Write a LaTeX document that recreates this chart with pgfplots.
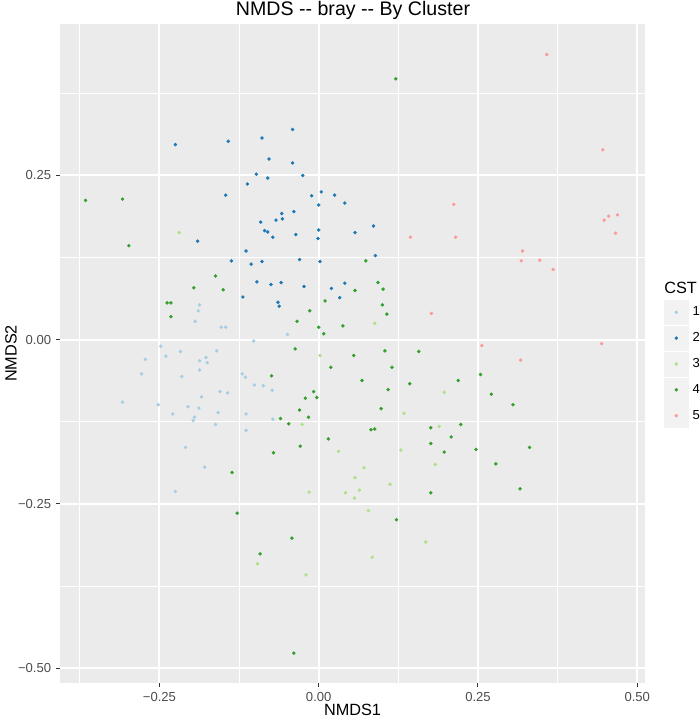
\documentclass[border=0pt]{standalone}
\usepackage{fontspec}
\setmainfont{Liberation Sans}
\usepackage{pgfplots}
\pgfplotsset{compat=1.18}

\definecolor{c1}{HTML}{A6CEE3}
\definecolor{c2}{HTML}{1F78B4}
\definecolor{c3}{HTML}{B2DF8A}
\definecolor{c4}{HTML}{33A02C}
\definecolor{c5}{HTML}{FB9A99}
\definecolor{ggbg}{HTML}{EBEBEB}
\definecolor{ggkey}{HTML}{F2F2F2}
\definecolor{gg30}{HTML}{4D4D4D}
\definecolor{gg20}{HTML}{333333}

\pgfplotsset{
  keyimg/.style={legend image code/.code={
    \fill[ggkey] (0pt,-9pt) rectangle (18pt,9pt);
    \fill[#1] (9pt,0pt) circle (1.1pt);}},
  pts/.style={only marks, mark=*, mark size=1.1pt, color=#1,
    mark options={draw=none, fill=#1}, forget plot},
}

\begin{document}
\begin{tikzpicture}
\path[use as bounding box] (0,0) rectangle (525pt,539.25pt);

\begin{axis}[
    at={(45pt,27pt)}, anchor=south west,
    scale only axis,
    width=438.75pt, height=494.25pt,
    xmin=-0.4061, xmax=0.5122,
    ymin=-0.5225, ymax=0.4805,
    clip mode=individual,
    axis background/.style={fill=ggbg},
    axis line style={draw=none},
    xtick={-0.25,0,0.25,0.5},
    xticklabels={−0.25,0.00,0.25,0.50},
    ytick={-0.5,-0.25,0,0.25},
    yticklabels={−0.50,−0.25,0.00,0.25},
    minor xtick={-0.375,-0.125,0.125,0.375},
    minor ytick={-0.375,-0.125,0.125,0.375},
    xtick pos=bottom, ytick pos=left,
    tick align=outside,
    major tick length=3pt, minor tick length=0pt,
    major tick style={draw=gg20, line width=0.75pt},
    xmajorgrids, ymajorgrids, xminorgrids, yminorgrids,
    major grid style={white, line width=1.5pt},
    minor grid style={white, line width=0.75pt},
    ticklabel style={font=\fontsize{9.8}{11}\selectfont, text=gg30, inner sep=0pt},
    xticklabel style={anchor=north},
    yticklabel style={anchor=east},
    xticklabel shift=3.5pt,
    yticklabel shift=3.5pt,
    every axis title shift=0pt,
    title={NMDS -{}- bray -{}- By Cluster},
    title style={at={(axis description cs:0.5009,1.0129)}, anchor=base,
      inner sep=0pt, font=\fontsize{14.7}{16}\selectfont},
    xlabel={NMDS1},
    xlabel style={at={(axis description cs:0.5,-0.0494)}, anchor=base,
      inner sep=0pt, font=\fontsize{12.2}{14}\selectfont},
    ylabel={NMDS2},
    ylabel style={at={(axis description cs:-0.0741,0.5)}, anchor=base,
      inner sep=0pt, font=\fontsize{12.2}{14}\selectfont},
    legend style={at={(axis description cs:1.0325,0.5812)}, anchor=north west,
      draw=none, fill=none, inner sep=0pt, outer sep=0pt,
      row sep=1pt, column sep=1pt,
      font=\fontsize{9.8}{11}\selectfont,
      cells={anchor=west}, nodes={inner sep=2pt}},
]

% CST 1
\addplot[pts=c1] coordinates {
(-0.187,0.053) (-0.189,0.044) (-0.194,0.028) (-0.153,0.019) (-0.146,0.019)
(-0.248,-0.010) (-0.217,-0.018) (-0.160,-0.017) (-0.272,-0.030) (-0.240,-0.025)
(-0.177,-0.027) (-0.187,-0.032) (-0.175,-0.035) (-0.187,-0.046) (-0.278,-0.052)
(-0.215,-0.056) (-0.120,-0.052) (-0.115,-0.057) (-0.155,-0.079) (-0.143,-0.081)
(-0.184,-0.087) (-0.308,-0.095) (-0.252,-0.099) (-0.205,-0.102) (-0.188,-0.104)
(-0.229,-0.113) (-0.158,-0.111) (-0.114,-0.113) (-0.195,-0.118) (-0.197,-0.123)
(-0.162,-0.129) (-0.114,-0.138) (-0.209,-0.164) (-0.179,-0.194) (-0.225,-0.231)
(-0.049,0.008) (-0.102,-0.002) (-0.101,-0.069) (-0.087,-0.070) (-0.073,-0.077)
(-0.072,-0.121)
};
% CST 2
\addplot[pts=c2] coordinates {
(-0.225,0.297) (-0.142,0.302) (-0.112,0.237) (-0.146,0.220) (-0.190,0.150)
(-0.114,0.135) (-0.041,0.320) (-0.089,0.307) (-0.078,0.275) (-0.041,0.269)
(-0.098,0.252) (-0.080,0.246) (-0.025,0.250) (-0.011,0.219) (0.004,0.225)
(0.025,0.220) (0.041,0.208) (0.000,0.205) (-0.039,0.195) (-0.058,0.192)
(-0.067,0.182) (-0.057,0.184) (-0.091,0.179) (-0.085,0.166) (-0.080,0.164)
(-0.072,0.156) (-0.036,0.160) (0.000,0.167) (-0.001,0.154) (0.057,0.163)
(0.086,0.173) (-0.137,0.120) (-0.119,0.065) (-0.106,0.115) (-0.089,0.119)
(-0.030,0.122) (0.002,0.119) (0.089,0.128) (-0.097,0.088) (-0.075,0.084)
(-0.059,0.087) (-0.023,0.081) (0.041,0.086) (0.020,0.078) (-0.064,0.057)
(-0.062,0.051) (0.033,0.064)
};
% CST 3
\addplot[pts=c3] coordinates {
(-0.219,0.163) (0.088,0.025) (0.002,-0.024) (0.197,-0.080) (0.134,-0.112)
(-0.026,-0.129) (0.189,-0.132) (0.031,-0.170) (0.129,-0.168) (0.183,-0.190)
(0.071,-0.195) (0.057,-0.210) (0.112,-0.220) (-0.015,-0.232) (0.042,-0.233)
(0.064,-0.229) (0.056,-0.241) (0.078,-0.260) (0.168,-0.308) (-0.096,-0.341)
(0.084,-0.331) (-0.020,-0.358)
};
% CST 4
\addplot[pts=c4] coordinates {
(-0.366,0.212) (-0.308,0.214) (-0.298,0.143) (0.121,0.397) (-0.162,0.097)
(-0.196,0.079) (-0.150,0.076) (-0.238,0.056) (-0.232,0.056) (-0.232,0.035)
(0.074,0.120) (0.093,0.087) (0.101,0.077) (0.057,0.075) (0.010,0.059)
(0.100,0.053) (0.107,0.039) (-0.014,0.044) (-0.034,0.028) (0.000,0.019)
(0.038,0.021) (0.008,0.009) (-0.037,-0.014) (0.055,-0.024) (0.104,-0.017)
(0.157,-0.018) (0.019,-0.042) (0.115,-0.042) (-0.074,-0.055) (0.068,-0.062)
(0.143,-0.067) (0.109,-0.076) (-0.008,-0.079) (-0.021,-0.089) (-0.003,-0.088)
(-0.030,-0.107) (-0.016,-0.118) (0.098,-0.105) (-0.060,-0.120) (-0.047,-0.128)
(0.082,-0.137) (0.088,-0.136) (0.176,-0.134) (0.015,-0.151) (-0.029,-0.162)
(-0.071,-0.172) (0.176,-0.158) (0.197,-0.171) (0.254,-0.053) (0.219,-0.062)
(0.271,-0.083) (0.305,-0.099) (0.223,-0.129) (0.208,-0.148) (0.247,-0.167)
(0.331,-0.164) (0.278,-0.189) (-0.136,-0.202) (-0.128,-0.264) (0.176,-0.233)
(0.122,-0.274) (-0.042,-0.302) (-0.092,-0.326) (-0.039,-0.477) (0.316,-0.227)
};
% CST 5
\addplot[pts=c5] coordinates {
(0.144,0.156) (0.358,0.434) (0.446,0.289) (0.212,0.206) (0.215,0.156)
(0.448,0.182) (0.455,0.188) (0.469,0.190) (0.466,0.162) (0.320,0.135)
(0.318,0.120) (0.347,0.121) (0.368,0.107) (0.444,-0.006) (0.256,-0.009)
(0.317,-0.031) (0.177,0.040)
};

\addlegendimage{keyimg=c1}\addlegendentry{1}
\addlegendimage{keyimg=c2}\addlegendentry{2}
\addlegendimage{keyimg=c3}\addlegendentry{3}
\addlegendimage{keyimg=c4}\addlegendentry{4}
\addlegendimage{keyimg=c5}\addlegendentry{5}

\node[anchor=base west, inner sep=0pt, font=\fontsize{12.2}{14}\selectfont]
  at (axis description cs:1.0325,0.5903) {CST};
\end{axis}
\end{tikzpicture}
\end{document}
